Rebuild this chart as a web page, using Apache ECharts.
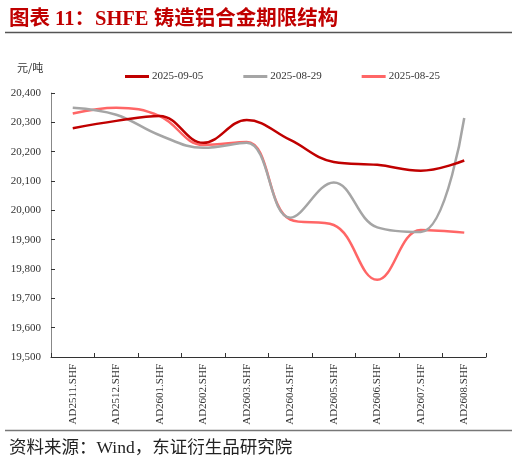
<!DOCTYPE html>
<html><head><meta charset="utf-8">
<script src="https://cdn.jsdelivr.net/npm/echarts@6/dist/echarts.min.js"></script>
<style>html,body{margin:0;padding:0;background:#fff}#c{width:517px;height:460px}</style>
</head><body><div id="c"></div>
<script>
const categories = ['AD2511.SHF','AD2512.SHF','AD2601.SHF','AD2602.SHF','AD2603.SHF','AD2604.SHF','AD2605.SHF','AD2606.SHF','AD2607.SHF','AD2608.SHF'];
const s0905 = [20280, 20305, 20322, 20230, 20308, 20240, 20165, 20155, 20135, 20170];
const s0829 = [20350, 20326, 20256, 20213, 20230, 19975, 20095, 19942, 19926, 20315];
const s0825 = [20330, 20350, 20321, 20223, 20233, 19968, 19950, 19763, 19933, 19924];
const seriesNames = ['2025-09-05','2025-08-29','2025-08-25'];
const colors = ['#C00000','#A5A5A5','#FF6666'];

const serif = '"Liberation Serif","Times New Roman","Noto Sans CJK SC",serif';
const chart = echarts.init(document.getElementById('c'));
chart.setOption({
  animation:false,
  backgroundColor:'#fff',
  title:[
    {text:'图表 11：SHFE 铸造铝合金期限结构', left:4, top:4,
     textStyle:{color:'#C00000', fontSize:20.5, fontWeight:'bold', fontFamily:'"Liberation Serif","Noto Sans CJK SC",serif'}},
    {text:'元/吨', left:12, top:57, textStyle:{color:'#333', fontSize:11, fontWeight:'normal', fontFamily:'"Noto Sans CJK SC",sans-serif'}},
    {text:'资料来源：Wind，东证衍生品研究院', left:4, top:435,
     textStyle:{color:'#222', fontSize:17.5, fontWeight:'normal', fontFamily:'"Liberation Serif","Noto Sans CJK SC",serif'}}
  ],
  graphic:[
    {type:'line', shape:{x1:5,y1:32.5,x2:512,y2:32.5}, style:{stroke:'#555', lineWidth:1.5}},
    {type:'line', shape:{x1:5,y1:430.5,x2:512,y2:430.5}, style:{stroke:'#777', lineWidth:1.5}}
  ],
  legend:{
    top:66, left:120, itemGap:40, itemWidth:24, itemHeight:3,
    icon:'rect',
    textStyle:{fontFamily:serif, fontSize:11, color:'#333', padding:[0,0,0,-2]},
    data:seriesNames
  },
  grid:{left:51, right:31, top:93, bottom:103},
  xAxis:{
    type:'category', data:categories, boundaryGap:true,
    axisLine:{lineStyle:{color:'#333', width:1}},
    axisTick:{show:true, inside:true, length:4, lineStyle:{color:'#333'}},
    axisLabel:{rotate:90, interval:0, fontFamily:serif, fontSize:11, color:'#333', margin:7}
  },
  yAxis:{
    type:'value', min:19500, max:20400, interval:100,
    axisLine:{show:true, lineStyle:{color:'#888', width:1}},
    axisTick:{show:true, inside:true, length:4, lineStyle:{color:'#333'}},
    splitLine:{show:false},
    axisLabel:{fontFamily:serif, fontSize:11, color:'#333', margin:10,
      formatter:v=>v.toLocaleString('en-US')}
  },
  series:[s0905,s0829,s0825].map((d,i)=>({
    name:seriesNames[i], type:'line', data:d, smooth:0.4, symbol:'none',
    lineStyle:{color:colors[i], width:2.5}, itemStyle:{color:colors[i]}, z:3-i
  }))
});
</script></body></html>
